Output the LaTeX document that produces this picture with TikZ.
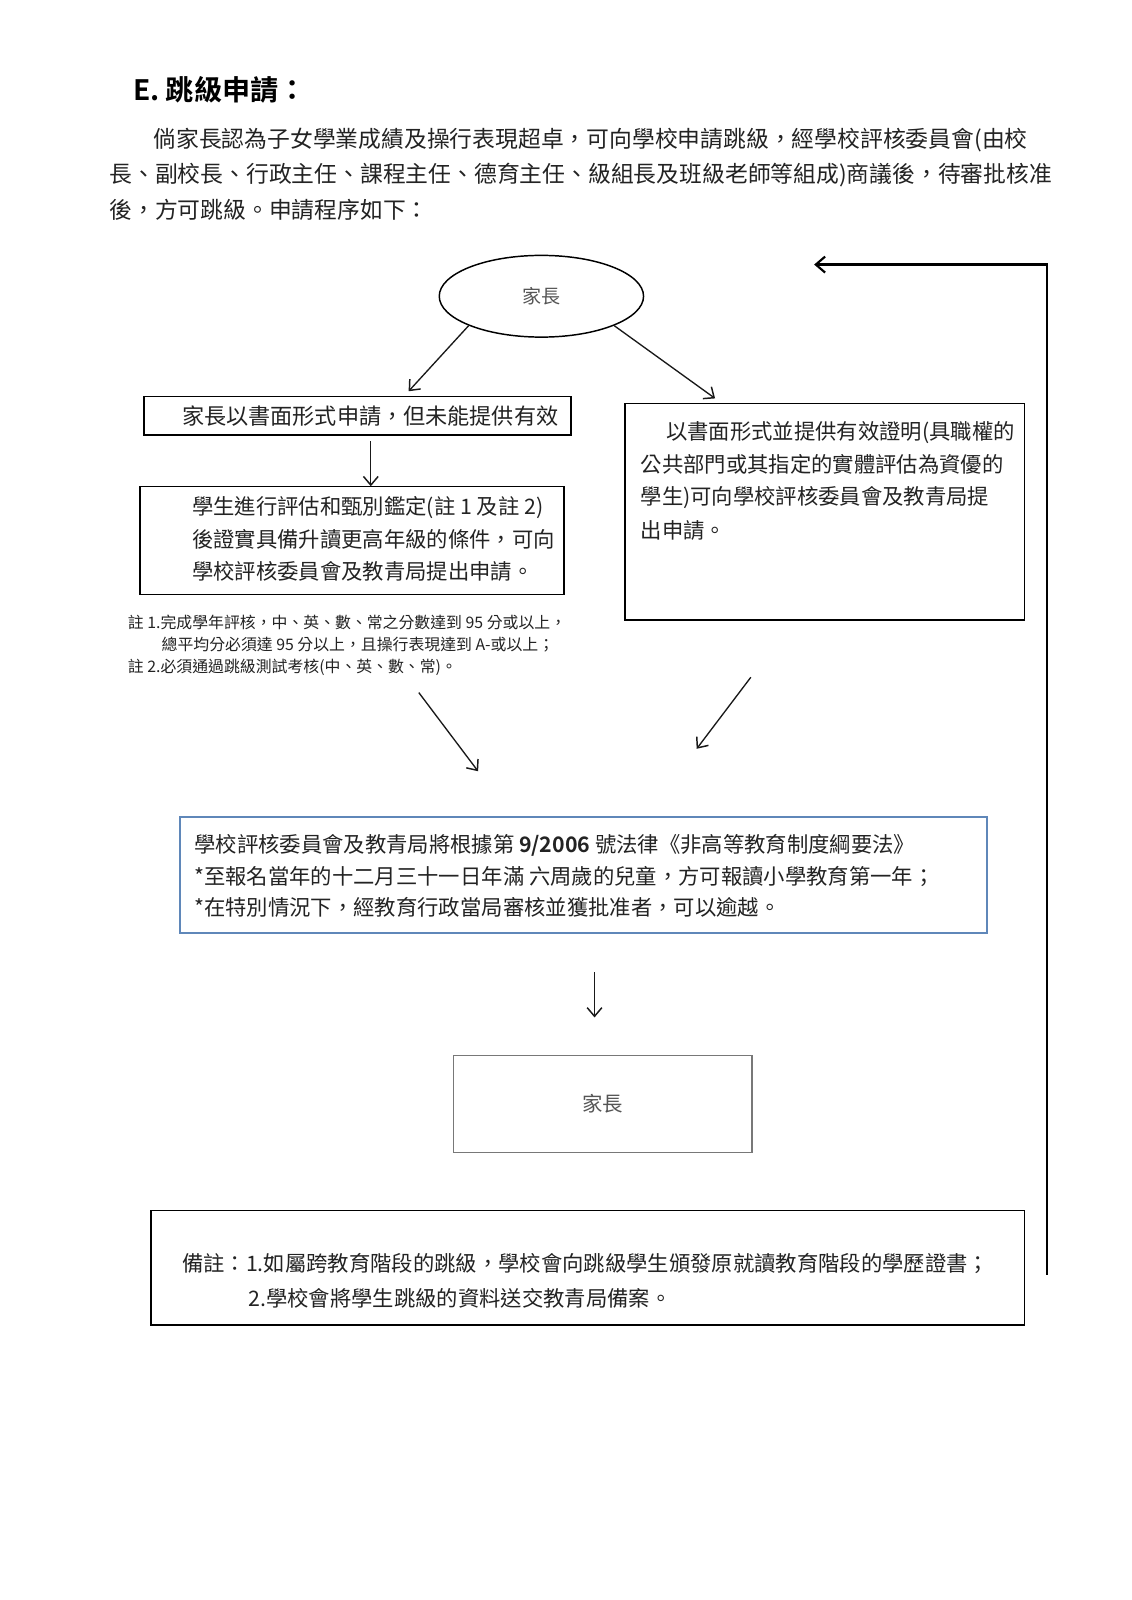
\documentclass[tikz,border=0pt]{standalone}
\usepackage{fontspec}
\setmainfont{Noto Sans CJK TC}[BoldFont={Noto Sans CJK TC Bold}]
\usetikzlibrary{shapes.geometric,arrows.meta}
\definecolor{txt}{RGB}{35,35,35}
\definecolor{gtxt}{RGB}{85,85,85}
\definecolor{bluebd}{RGB}{95,135,185}
\definecolor{graybd}{RGB}{120,120,120}
\tikzset{
  ln/.style={anchor=west,inner sep=0pt,text=txt,font=\fontsize{16}{18}\selectfont},
  lnb/.style={ln,font=\fontsize{16.6}{18}\selectfont},
  para/.style={anchor=west,inner sep=0pt,text=txt,font=\fontsize{17.1}{19}\selectfont},
  note/.style={anchor=west,inner sep=0pt,text=txt,font=\fontsize{11.9}{14}\selectfont},
  box/.style 2 args={draw=black,line width=1.1pt,minimum width=#1*0.7661pt,minimum height=#2*0.7661pt,inner sep=0pt},
  arr/.style={draw=black!90,line width=1pt,-{Straight Barb[length=6.5pt,width=11pt,line width=1.1pt]}},
}
\begin{document}
\begin{tikzpicture}[x=0.7661pt,y=-0.7661pt]
\useasboundingbox (0,0) rectangle (1107.2,1566.3);
\fill[white] (0,0) rectangle (1107.2,1566.3);

% title and paragraph
\node[anchor=west,inner sep=0pt,text=black,font=\fontsize{21.1}{24}\selectfont\bfseries] (title) at (130,88) {E. 跳級申請：};
\node[para] (p1) at (150,137) {倘家長認為子女學業成績及操行表現超卓，可向學校申請跳級，經學校評核委員會(由校};
\node[para] (p2) at (107,171) {長、副校長、行政主任、課程主任、德育主任、級組長及班級老師等組成)商議後，待審批核准};
\node[para] (p3) at (107,205) {後，方可跳級。申請程序如下：};

% ellipse
\node[draw=black,line width=1.1pt,ellipse,minimum width=200*0.7661pt,minimum height=80*0.7661pt,inner sep=0pt,text=gtxt,font=\fontsize{14.3}{16}\selectfont] (ell) at (530,290) {家長};

% box 1
\node[box={418}{38}] (b1) at (350,407) {};
\node[lnb] (b1t) at (178,407) {家長以書面形式申請，但未能提供有效};

% box 2
\node[box={415}{106}] (b2) at (344.5,529) {};
\node[ln] (b2a) at (188,497) {學生進行評估和甄別鑑定(註 1 及註 2)};
\node[ln] (b2b) at (188,528) {後證實具備升讀更高年級的條件，可向};
\node[ln] (b2c) at (188,559) {學校評核委員會及教青局提出申請。};

% notes
\node[note] (n1) at (125,609) {註 1.完成學年評核，中、英、數、常之分數達到 95 分或以上，};
\node[note] (n2) at (158,631) {總平均分必須達 95 分以上，且操行表現達到 A-或以上；};
\node[note] (n3) at (125,653) {註 2.必須通過跳級測試考核(中、英、數、常)。};

% box 3
\node[box={391}{212}] (b3) at (807.5,501) {};
\node[ln] (b3a) at (652,423) {以書面形式並提供有效證明(具職權的};
\node[ln] (b3b) at (627,455) {公共部門或其指定的實體評估為資優的};
\node[ln] (b3c) at (627,487) {學生)可向學校評核委員會及教青局提};
\node[ln] (b3d) at (627,519) {出申請。};

% middle box
\node[draw=bluebd,line width=1.3pt,minimum width=790*0.7661pt,minimum height=113*0.7661pt,inner sep=0pt] (mid) at (571,856.5) {};
\node[ln] (m1) at (190,828) {學校評核委員會及教青局將根據第 \textbf{9/2006} 號法律《非高等教育制度綱要法》};
\node[ln] (m2) at (190,858) {*至報名當年的十二月三十一日年滿 六周歲的兒童，方可報讀小學教育第一年；};
\node[ln] (m3) at (190,888) {*在特別情況下，經教育行政當局審核並獲批准者，可以逾越。};

% parent box
\node[draw=graybd,line width=1.1pt,minimum width=292*0.7661pt,minimum height=95*0.7661pt,inner sep=0pt,text=gtxt,font=\fontsize{15.3}{18}\selectfont] (par) at (590,1080.5) {家長};

% bottom remark box
\node[box={855}{112}] (rem) at (575.5,1241) {};
\node[ln] (r1) at (178,1237) {備註：1.如屬跨教育階段的跳級，學校會向跳級學生頒發原就讀教育階段的學歷證書；};
\node[ln] (r2) at (243,1271) {2.學校會將學生跳級的資料送交教青局備案。};

% connector coordinates
\coordinate (e1) at (400,383);
\coordinate (e2) at (700,390);
\coordinate (s3) at (363,432);
\coordinate (e3) at (363,476);
\coordinate (s4) at (410,678);
\coordinate (e4) at (468,755);
\coordinate (s5) at (735,663);
\coordinate (e5) at (682,733);
\coordinate (s6) at (582,952);
\coordinate (e6) at (582,996);
\coordinate (fb0) at (1025,1248);
\coordinate (fb1) at (1025,259);
\coordinate (fb2) at (797,259);

% connectors
\draw[arr] (ell.202) -- (e1);
\draw[arr] (ell.-22) -- (e2);
\draw[arr] (s3) -- (e3);
\draw[arr] (s4) -- (e4);
\draw[arr] (s5) -- (e5);
\draw[arr] (s6) -- (e6);
\draw[line width=2pt,-{Straight Barb[length=7pt,width=12pt,line width=1.6pt]}] (fb0) -- (fb1) -- (fb2);
\end{tikzpicture}
\end{document}
